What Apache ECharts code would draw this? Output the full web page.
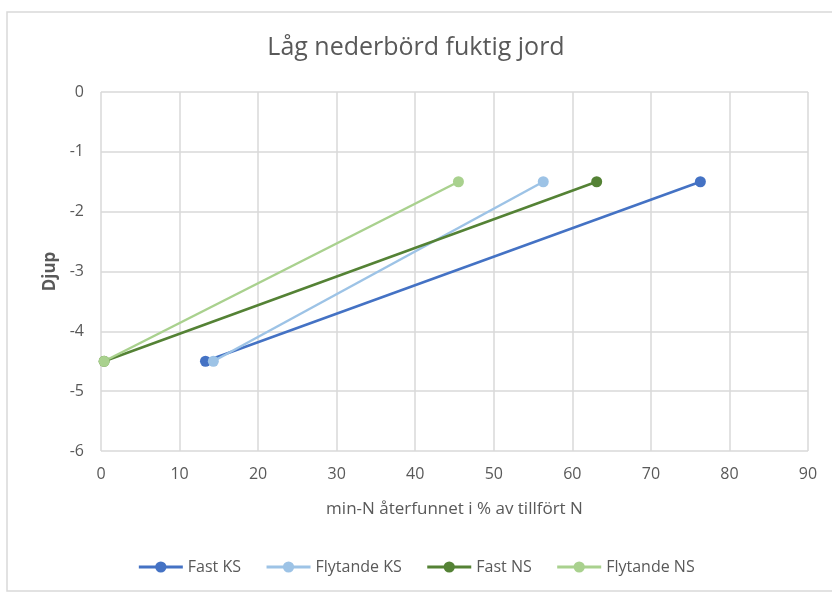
<!DOCTYPE html>
<html>
<head>
<meta charset="utf-8">
<script src="https://cdn.jsdelivr.net/npm/echarts@6/dist/echarts.min.js"></script>
<style>
  html, body { margin: 0; padding: 0; background: #fff; }
  #chart { width: 832px; height: 592px; }
</style>
</head>
<body>
<div id="chart"></div>
<script>
// Recovered mineral N (% of applied N) at two depths
const seriesNames = ['Fast KS', 'Flytande KS', 'Fast NS', 'Flytande NS'];
const depths = [-4.5, -1.5];
const fastKS = [13.3, 76.3];
const flytandeKS = [14.3, 56.3];
const fastNS = [0.4, 63.1];
const flytandeNS = [0.4, 45.5];
const colors = ['#4472C4', '#9DC3E6', '#548235', '#A9D18E'];

const values = [fastKS, flytandeKS, fastNS, flytandeNS];
const font = '"Open Sans", "Noto Sans", sans-serif';
const textColor = '#595959';

const chart = echarts.init(document.getElementById('chart'), null, { renderer: 'canvas' });

chart.setOption({
  animation: false,
  backgroundColor: '#fff',
  graphic: [{
    type: 'rect',
    shape: { x: 7, y: 12, width: 840, height: 579 },
    style: { fill: 'none', stroke: '#d9d9d9', lineWidth: 1.5 },
    silent: true
  }],
  title: {
    text: 'Låg nederbörd fuktig jord',
    left: 'center',
    top: 30,
    textStyle: { fontFamily: font, fontSize: 25, fontWeight: 'normal', color: textColor }
  },
  grid: { left: 101, right: 24, top: 92, bottom: 141, containLabel: false },
  xAxis: {
    type: 'value',
    min: 0, max: 90, interval: 10,
    name: 'min-N återfunnet i % av tillfört N',
    nameLocation: 'middle',
    nameGap: 50,
    nameTextStyle: { fontFamily: font, fontSize: 17, color: textColor },
    axisLine: { show: false },
    axisTick: { show: false },
    axisLabel: { fontFamily: font, fontSize: 16, color: textColor, margin: 15 },
    splitLine: { show: true, lineStyle: { color: '#d9d9d9', width: 1.5 } }
  },
  yAxis: {
    type: 'value',
    min: -6, max: 0, interval: 1,
    name: 'Djup',
    nameLocation: 'middle',
    nameGap: 42,
    nameRotate: 90,
    nameTextStyle: { fontFamily: font, fontSize: 17, fontWeight: 'bold', color: textColor },
    axisLine: { show: false },
    axisTick: { show: false },
    axisLabel: { fontFamily: font, fontSize: 16, color: textColor, margin: 17 },
    splitLine: { show: true, lineStyle: { color: '#d9d9d9', width: 1.5 } }
  },
  legend: {
    bottom: 12,
    left: 'center',
    itemWidth: 44,
    itemHeight: 14,
    itemGap: 24,
    lineStyle: { width: 3 },
    textStyle: { fontFamily: font, fontSize: 16, color: textColor },
    data: seriesNames
  },
  series: seriesNames.map((name, i) => ({
    name: name,
    type: 'line',
    data: values[i].map((v, j) => [v, depths[j]]),
    symbol: 'circle',
    symbolSize: 11,
    color: colors[i],
    lineStyle: { width: 2.5, color: colors[i] },
    itemStyle: { color: colors[i] }
  }))
});
</script>
</body>
</html>
